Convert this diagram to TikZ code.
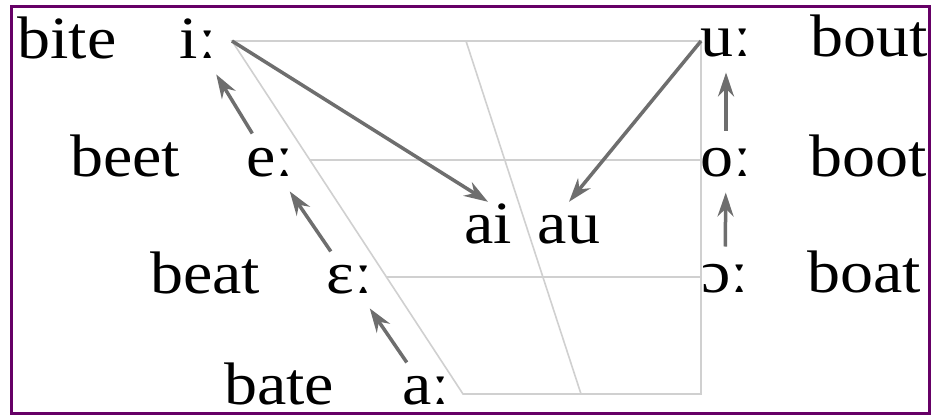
\documentclass[tikz,border=0pt]{standalone}
\usepackage{fontspec}
\setmainfont[FakeStretch=1.1]{Liberation Serif}
\usetikzlibrary{arrows.meta,calc}
\definecolor{framepurple}{RGB}{102,0,102}
\definecolor{arrowgray}{RGB}{110,110,110}
\definecolor{gridgray}{RGB}{208,208,208}

\begin{document}
\begin{tikzpicture}[
          x=1pt, y=-1pt,
          font=\fontsize{60}{72}\selectfont,
          grid line/.style={draw=gridgray, line width=1.6pt},
          glide/.style={draw=arrowgray, line width=3.5pt, -{Stealth[length=24pt, width=16pt]}},
          shift up/.style={glide, shorten <=34pt, shorten >=35pt},
          rise/.style={glide, shorten <=32pt, shorten >=30pt},
          vowel/.style={anchor=base, inner sep=0pt, text height=27pt, text depth=0pt},
          word/.style={anchor=base, inner sep=0pt},
          diphthong/.style={anchor=base, inner sep=14pt, text height=27pt, text depth=0pt},
      ]

      % Background and frame
      \fill[white] (0,0) rectangle (933,415);
      \useasboundingbox (0,0) rectangle (933,415);
      \draw[framepurple, line width=3pt] (11.5,6.5) rectangle (929.5,413.5);

      % Corners of the vowel trapezium
      \coordinate (tl) at (232,41);
      \coordinate (tr) at (701,41);
      \coordinate (bl) at (463,394);
      \coordinate (br) at (701,394);
      \coordinate (mt) at (466,41);
      \coordinate (mb) at (581,394);
      \coordinate (ml) at ($(tl)!0.337!(bl)$);
      \coordinate (ll) at ($(tl)!0.669!(bl)$);

      % Grid lines
      \draw[grid line] (tr) -- (tl) -- (bl) -- (br) -- cycle;
      \draw[grid line] (mt) -- (mb);
      \draw[grid line] (ml) -- (ml -| tr);
      \draw[grid line] (ll) -- (ll -| tr);

      % Long vowels
      \foreach \nm/\ipa/\x/\y in {ii/iː/198/58, ee/eː/270/176, eh/ɛː/350/293, aa/aː/426/404,
                                  uu/uː/726/56, oo/oː/726/176, oh/ɔː/725/292} {
          \node[vowel] (\nm) at (\x,\y) {\ipa};
      }

      % Example words
      \foreach \w/\x/\y in {bite/67/58, beet/125/176, beat/205/293, bate/279/404,
                            bout/869/56, boot/868/176, boat/864/292} {
          \node[word] (\w) at (\x,\y) {\w};
      }

      % Diphthongs
      \node[diphthong] (ai) at (488,243) {ai};
      \node[diphthong] (au) at (569,243) {au};

      % Shift arrows
      \draw[shift up] (aa.center) -- (eh.center);
      \draw[shift up] (eh.center) -- (ee.center);
      \draw[shift up] (ee.center) -- (ii.center);
      \draw[rise] (oh.center) -- (oo.center);
      \draw[rise] (oo.center) -- (uu.center);
      \draw[glide] (tl) -- (ai.north);
      \draw[glide] (tr) -- (au.north);

\end{tikzpicture}
\end{document}
